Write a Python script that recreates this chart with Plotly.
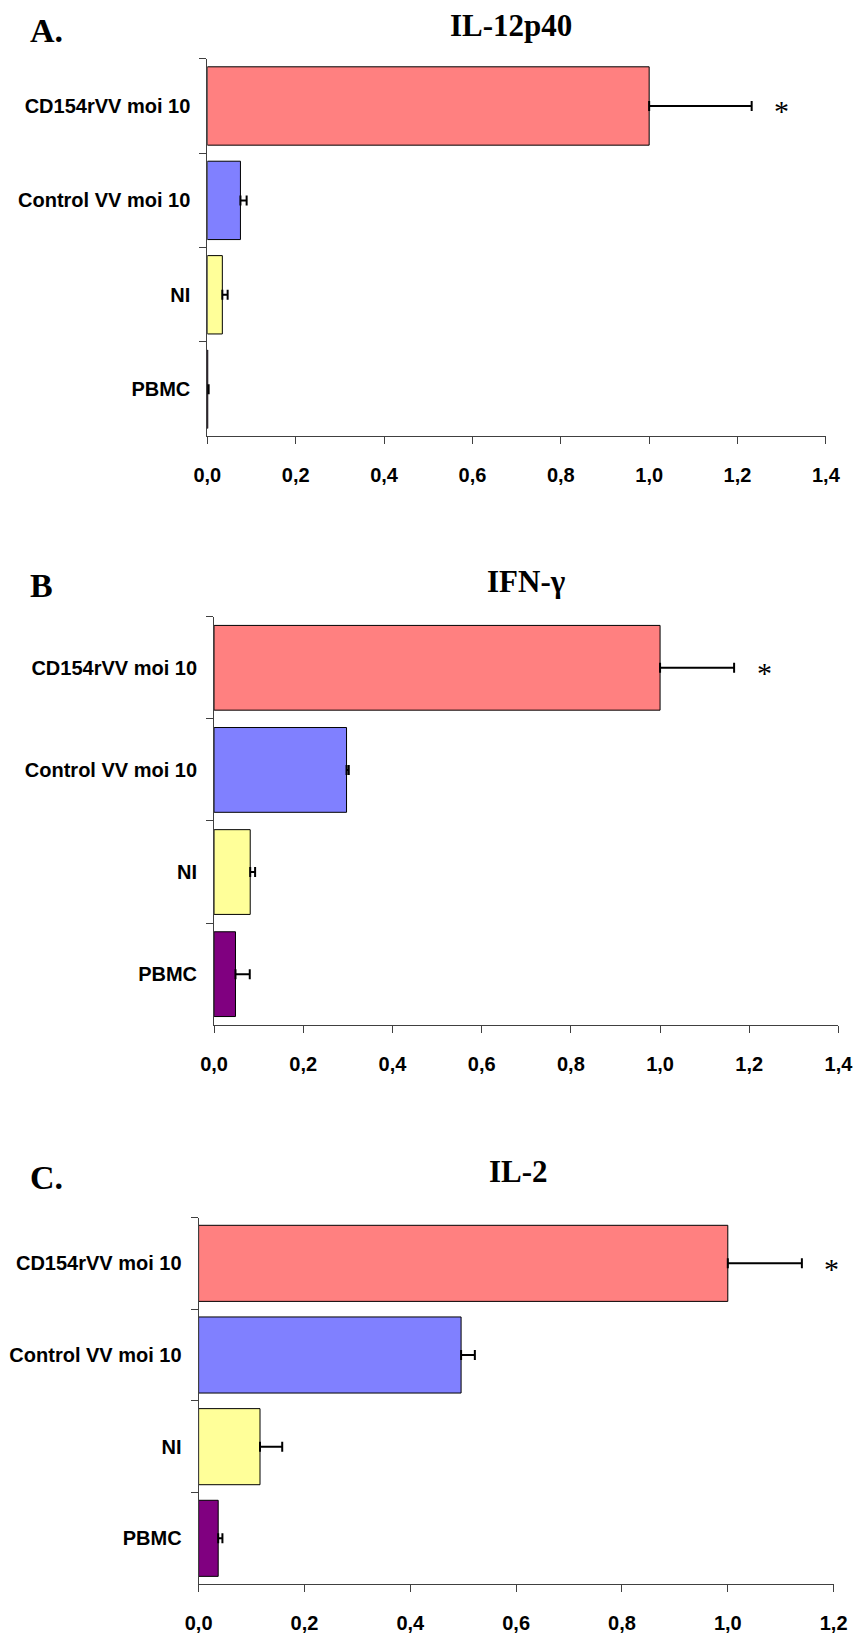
import plotly.graph_objects as go

# Groups shown on every panel (top to bottom)
groups = ["CD154rVV moi 10", "Control VV moi 10", "NI", "PBMC"]
bar_colors = ["#FF8080", "#8080FF", "#FFFF99", "#800080"]
significance = ["*", "", "", ""]

# Relative cytokine levels (mean) and upper error
il12_mean = [1.0, 0.075, 0.034, 0.001]
il12_err = [0.232, 0.014, 0.012, 0.002]

ifng_mean = [1.0, 0.297, 0.081, 0.048]
ifng_err = [0.166, 0.005, 0.011, 0.032]

il2_mean = [1.0, 0.496, 0.116, 0.037]
il2_err = [0.14, 0.026, 0.042, 0.008]

panel_letters = ["A.", "B", "C."]
panel_titles = ["IL-12p40", "IFN-γ", "IL-2"]
x_max = [1.4, 1.4, 1.2]

W, H = 867, 1634

# pixel layout of the three plotting areas: (left, right, top, bottom)
areas = [(200, 840, 59, 438), (207, 853, 619, 1029), (191, 848, 1222, 1590)]
letter_pos = [(14, 31), (14, 588), (15, 1182)]
title_pos = [(514, 26), (530, 584), (522, 1176)]

sans = "Liberation Sans, Arial, sans-serif"
serif = "Liberation Serif, Times New Roman, serif"
axis_col = "#404040"

fig = go.Figure()
layout = dict(
    width=W, height=H, margin=dict(l=0, r=0, t=0, b=0),
    paper_bgcolor="white", plot_bgcolor="white",
    showlegend=False, bargap=0.17, separators=", ",
    annotations=[],
)

series = [(il12_mean, il12_err), (ifng_mean, ifng_err), (il2_mean, il2_err)]
for i, ((means, errs), area) in enumerate(zip(series, areas)):
    n = "" if i == 0 else str(i + 1)
    left, right, top, bottom = area
    fig.add_trace(go.Bar(
        x=means, y=groups, orientation="h",
        xaxis="x" + n, yaxis="y" + n,
        marker=dict(color=bar_colors, line=dict(color="black", width=1)),
        error_x=dict(type="data", symmetric=False, array=errs,
                     arrayminus=[0] * len(errs),
                     color="black", thickness=2, width=5),
        hoverinfo="skip",
    ))
    layout["xaxis" + n] = dict(
        domain=[left / W, right / W], anchor="y" + n,
        range=[0, x_max[i]], dtick=0.2, tick0=0, tickformat=".1f",
        showline=True, linecolor=axis_col, linewidth=1,
        ticks="outside", ticklen=7, tickcolor=axis_col,
        showgrid=False, zeroline=False, ticklabelstandoff=14,
        tickfont=dict(family=sans, size=20, color="black", weight="bold"),
    )
    layout["yaxis" + n] = dict(
        domain=[1 - bottom / H, 1 - top / H], anchor="x" + n,
        autorange="reversed", type="category",
        showline=True, linecolor=axis_col, linewidth=1,
        ticks="outside", ticklen=7, tickcolor=axis_col, tickson="boundaries",
        showgrid=False, zeroline=False, ticklabelstandoff=12,
        tickfont=dict(family=sans, size=20, color="black", weight="bold"),
    )
    # significance markers beyond the error bars
    for g, m, e, s in zip(groups, means, errs, significance):
        if s:
            layout["annotations"].append(dict(
                x=m + e, y=g, xref="x" + n, yref="y" + n,
                text=s, showarrow=False, xanchor="center", xshift=30, yshift=-5,
                font=dict(family=serif, size=30, color="black"),
            ))
    lx, ly = letter_pos[i]
    layout["annotations"].append(dict(
        x=lx / W, y=1 - ly / H, xref="paper", yref="paper",
        text=panel_letters[i], showarrow=False, xanchor="left", yanchor="middle",
        font=dict(family=serif, size=34, color="black", weight="bold"),
    ))
    tx, ty = title_pos[i]
    layout["annotations"].append(dict(
        x=tx / W, y=1 - ty / H, xref="paper", yref="paper",
        text=panel_titles[i], showarrow=False, xanchor="center", yanchor="middle",
        font=dict(family=serif, size=31, color="black", weight="bold"),
    ))

fig.update_layout(**layout)
fig.write_html("out.html")
